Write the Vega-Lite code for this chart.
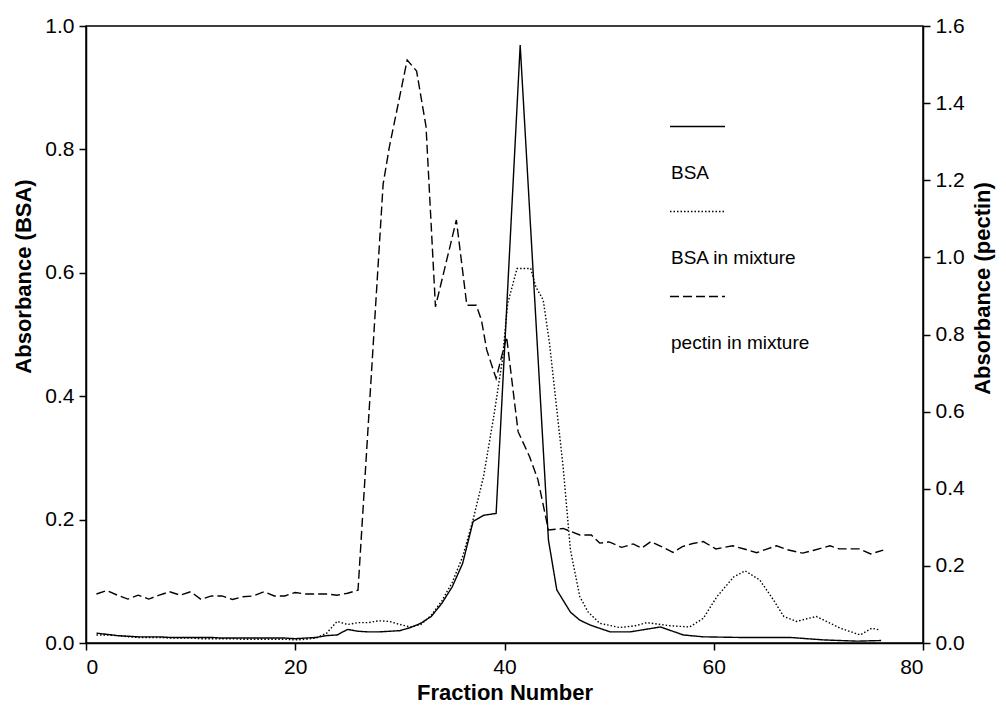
{
  "$schema": "https://vega.github.io/schema/vega-lite/v6.json",
  "width": 837,
  "height": 617,
  "autosize": {"type": "none"},
  "padding": {"left": 86, "top": 26, "right": 83, "bottom": 74},
  "background": "white",
  "config": {
    "view": {"stroke": "black", "strokeWidth": 1.5},
    "font": "Liberation Sans",
    "axis": {
      "domainColor": "black", "domainWidth": 1.5, "tickColor": "black", "tickWidth": 1.5, "tickSize": 7,
      "labelFontSize": 21, "labelColor": "black", "labelFont": "Liberation Sans", "labelPadding": 5,
      "titleFont": "Liberation Sans", "titleFontSize": 22, "titleFontWeight": "bold", "titleColor": "black", "grid": false
    }
  },
  "data": {"values": [
    {"Fraction": 1, "Absorbance": 0.016, "Sample": "BSA"},
    {"Fraction": 2, "Absorbance": 0.014, "Sample": "BSA"},
    {"Fraction": 3, "Absorbance": 0.012, "Sample": "BSA"},
    {"Fraction": 4, "Absorbance": 0.011, "Sample": "BSA"},
    {"Fraction": 5, "Absorbance": 0.010, "Sample": "BSA"},
    {"Fraction": 6, "Absorbance": 0.010, "Sample": "BSA"},
    {"Fraction": 7, "Absorbance": 0.010, "Sample": "BSA"},
    {"Fraction": 8, "Absorbance": 0.009, "Sample": "BSA"},
    {"Fraction": 9, "Absorbance": 0.009, "Sample": "BSA"},
    {"Fraction": 10, "Absorbance": 0.009, "Sample": "BSA"},
    {"Fraction": 11, "Absorbance": 0.009, "Sample": "BSA"},
    {"Fraction": 12, "Absorbance": 0.009, "Sample": "BSA"},
    {"Fraction": 13, "Absorbance": 0.008, "Sample": "BSA"},
    {"Fraction": 14, "Absorbance": 0.008, "Sample": "BSA"},
    {"Fraction": 15, "Absorbance": 0.008, "Sample": "BSA"},
    {"Fraction": 16, "Absorbance": 0.008, "Sample": "BSA"},
    {"Fraction": 17, "Absorbance": 0.008, "Sample": "BSA"},
    {"Fraction": 18, "Absorbance": 0.008, "Sample": "BSA"},
    {"Fraction": 19, "Absorbance": 0.008, "Sample": "BSA"},
    {"Fraction": 20, "Absorbance": 0.007, "Sample": "BSA"},
    {"Fraction": 21, "Absorbance": 0.008, "Sample": "BSA"},
    {"Fraction": 22, "Absorbance": 0.009, "Sample": "BSA"},
    {"Fraction": 23, "Absorbance": 0.012, "Sample": "BSA"},
    {"Fraction": 24, "Absorbance": 0.013, "Sample": "BSA"},
    {"Fraction": 25, "Absorbance": 0.022, "Sample": "BSA"},
    {"Fraction": 26, "Absorbance": 0.019, "Sample": "BSA"},
    {"Fraction": 27, "Absorbance": 0.018, "Sample": "BSA"},
    {"Fraction": 28, "Absorbance": 0.018, "Sample": "BSA"},
    {"Fraction": 29, "Absorbance": 0.019, "Sample": "BSA"},
    {"Fraction": 30, "Absorbance": 0.020, "Sample": "BSA"},
    {"Fraction": 31, "Absorbance": 0.025, "Sample": "BSA"},
    {"Fraction": 32, "Absorbance": 0.032, "Sample": "BSA"},
    {"Fraction": 33, "Absorbance": 0.043, "Sample": "BSA"},
    {"Fraction": 34, "Absorbance": 0.064, "Sample": "BSA"},
    {"Fraction": 35, "Absorbance": 0.091, "Sample": "BSA"},
    {"Fraction": 36, "Absorbance": 0.129, "Sample": "BSA"},
    {"Fraction": 37, "Absorbance": 0.197, "Sample": "BSA"},
    {"Fraction": 38, "Absorbance": 0.207, "Sample": "BSA"},
    {"Fraction": 39.2, "Absorbance": 0.210, "Sample": "BSA"},
    {"Fraction": 41.5, "Absorbance": 0.969, "Sample": "BSA"},
    {"Fraction": 44.2, "Absorbance": 0.167, "Sample": "BSA"},
    {"Fraction": 45, "Absorbance": 0.086, "Sample": "BSA"},
    {"Fraction": 46.3, "Absorbance": 0.050, "Sample": "BSA"},
    {"Fraction": 47.2, "Absorbance": 0.037, "Sample": "BSA"},
    {"Fraction": 48.2, "Absorbance": 0.029, "Sample": "BSA"},
    {"Fraction": 50.1, "Absorbance": 0.018, "Sample": "BSA"},
    {"Fraction": 52, "Absorbance": 0.018, "Sample": "BSA"},
    {"Fraction": 54.9, "Absorbance": 0.026, "Sample": "BSA"},
    {"Fraction": 57.1, "Absorbance": 0.013, "Sample": "BSA"},
    {"Fraction": 59, "Absorbance": 0.010, "Sample": "BSA"},
    {"Fraction": 62.5, "Absorbance": 0.009, "Sample": "BSA"},
    {"Fraction": 67.3, "Absorbance": 0.009, "Sample": "BSA"},
    {"Fraction": 70.5, "Absorbance": 0.005, "Sample": "BSA"},
    {"Fraction": 73.7, "Absorbance": 0.003, "Sample": "BSA"},
    {"Fraction": 76, "Absorbance": 0.004, "Sample": "BSA"},

    {"Fraction": 1, "Absorbance": 0.013, "Sample": "BSA in mixture"},
    {"Fraction": 2, "Absorbance": 0.013, "Sample": "BSA in mixture"},
    {"Fraction": 3, "Absorbance": 0.012, "Sample": "BSA in mixture"},
    {"Fraction": 4, "Absorbance": 0.010, "Sample": "BSA in mixture"},
    {"Fraction": 5, "Absorbance": 0.009, "Sample": "BSA in mixture"},
    {"Fraction": 6, "Absorbance": 0.009, "Sample": "BSA in mixture"},
    {"Fraction": 7, "Absorbance": 0.009, "Sample": "BSA in mixture"},
    {"Fraction": 8, "Absorbance": 0.008, "Sample": "BSA in mixture"},
    {"Fraction": 9, "Absorbance": 0.008, "Sample": "BSA in mixture"},
    {"Fraction": 10, "Absorbance": 0.008, "Sample": "BSA in mixture"},
    {"Fraction": 11, "Absorbance": 0.007, "Sample": "BSA in mixture"},
    {"Fraction": 12, "Absorbance": 0.007, "Sample": "BSA in mixture"},
    {"Fraction": 13, "Absorbance": 0.007, "Sample": "BSA in mixture"},
    {"Fraction": 14, "Absorbance": 0.007, "Sample": "BSA in mixture"},
    {"Fraction": 15, "Absorbance": 0.006, "Sample": "BSA in mixture"},
    {"Fraction": 16, "Absorbance": 0.006, "Sample": "BSA in mixture"},
    {"Fraction": 17, "Absorbance": 0.006, "Sample": "BSA in mixture"},
    {"Fraction": 18, "Absorbance": 0.006, "Sample": "BSA in mixture"},
    {"Fraction": 19, "Absorbance": 0.006, "Sample": "BSA in mixture"},
    {"Fraction": 20, "Absorbance": 0.005, "Sample": "BSA in mixture"},
    {"Fraction": 21, "Absorbance": 0.006, "Sample": "BSA in mixture"},
    {"Fraction": 22, "Absorbance": 0.008, "Sample": "BSA in mixture"},
    {"Fraction": 23, "Absorbance": 0.016, "Sample": "BSA in mixture"},
    {"Fraction": 24, "Absorbance": 0.035, "Sample": "BSA in mixture"},
    {"Fraction": 25, "Absorbance": 0.030, "Sample": "BSA in mixture"},
    {"Fraction": 26, "Absorbance": 0.033, "Sample": "BSA in mixture"},
    {"Fraction": 27, "Absorbance": 0.033, "Sample": "BSA in mixture"},
    {"Fraction": 28, "Absorbance": 0.036, "Sample": "BSA in mixture"},
    {"Fraction": 29, "Absorbance": 0.035, "Sample": "BSA in mixture"},
    {"Fraction": 30, "Absorbance": 0.030, "Sample": "BSA in mixture"},
    {"Fraction": 31, "Absorbance": 0.026, "Sample": "BSA in mixture"},
    {"Fraction": 32, "Absorbance": 0.030, "Sample": "BSA in mixture"},
    {"Fraction": 33, "Absorbance": 0.045, "Sample": "BSA in mixture"},
    {"Fraction": 34, "Absorbance": 0.068, "Sample": "BSA in mixture"},
    {"Fraction": 35, "Absorbance": 0.098, "Sample": "BSA in mixture"},
    {"Fraction": 36, "Absorbance": 0.140, "Sample": "BSA in mixture"},
    {"Fraction": 37, "Absorbance": 0.200, "Sample": "BSA in mixture"},
    {"Fraction": 38, "Absorbance": 0.270, "Sample": "BSA in mixture"},
    {"Fraction": 39, "Absorbance": 0.370, "Sample": "BSA in mixture"},
    {"Fraction": 39.8, "Absorbance": 0.459, "Sample": "BSA in mixture"},
    {"Fraction": 40.3, "Absorbance": 0.550, "Sample": "BSA in mixture"},
    {"Fraction": 41.2, "Absorbance": 0.607, "Sample": "BSA in mixture"},
    {"Fraction": 42.5, "Absorbance": 0.607, "Sample": "BSA in mixture"},
    {"Fraction": 43, "Absorbance": 0.577, "Sample": "BSA in mixture"},
    {"Fraction": 43.7, "Absorbance": 0.556, "Sample": "BSA in mixture"},
    {"Fraction": 44.3, "Absorbance": 0.486, "Sample": "BSA in mixture"},
    {"Fraction": 45.6, "Absorbance": 0.286, "Sample": "BSA in mixture"},
    {"Fraction": 46.3, "Absorbance": 0.151, "Sample": "BSA in mixture"},
    {"Fraction": 47.2, "Absorbance": 0.075, "Sample": "BSA in mixture"},
    {"Fraction": 48, "Absorbance": 0.050, "Sample": "BSA in mixture"},
    {"Fraction": 49.1, "Absorbance": 0.032, "Sample": "BSA in mixture"},
    {"Fraction": 51, "Absorbance": 0.025, "Sample": "BSA in mixture"},
    {"Fraction": 52.5, "Absorbance": 0.028, "Sample": "BSA in mixture"},
    {"Fraction": 53.6, "Absorbance": 0.033, "Sample": "BSA in mixture"},
    {"Fraction": 55.8, "Absorbance": 0.028, "Sample": "BSA in mixture"},
    {"Fraction": 57.7, "Absorbance": 0.026, "Sample": "BSA in mixture"},
    {"Fraction": 59, "Absorbance": 0.040, "Sample": "BSA in mixture"},
    {"Fraction": 60.3, "Absorbance": 0.075, "Sample": "BSA in mixture"},
    {"Fraction": 61.9, "Absorbance": 0.107, "Sample": "BSA in mixture"},
    {"Fraction": 63, "Absorbance": 0.117, "Sample": "BSA in mixture"},
    {"Fraction": 64.4, "Absorbance": 0.102, "Sample": "BSA in mixture"},
    {"Fraction": 65.7, "Absorbance": 0.070, "Sample": "BSA in mixture"},
    {"Fraction": 66.7, "Absorbance": 0.043, "Sample": "BSA in mixture"},
    {"Fraction": 67.9, "Absorbance": 0.035, "Sample": "BSA in mixture"},
    {"Fraction": 69.8, "Absorbance": 0.043, "Sample": "BSA in mixture"},
    {"Fraction": 72.1, "Absorbance": 0.024, "Sample": "BSA in mixture"},
    {"Fraction": 74, "Absorbance": 0.013, "Sample": "BSA in mixture"},
    {"Fraction": 75.1, "Absorbance": 0.024, "Sample": "BSA in mixture"},
    {"Fraction": 75.9, "Absorbance": 0.021, "Sample": "BSA in mixture"},

    {"Fraction": 1, "Absorbance": 0.127, "Sample": "pectin in mixture"},
    {"Fraction": 2, "Absorbance": 0.136, "Sample": "pectin in mixture"},
    {"Fraction": 3, "Absorbance": 0.124, "Sample": "pectin in mixture"},
    {"Fraction": 4, "Absorbance": 0.114, "Sample": "pectin in mixture"},
    {"Fraction": 5, "Absorbance": 0.124, "Sample": "pectin in mixture"},
    {"Fraction": 6, "Absorbance": 0.114, "Sample": "pectin in mixture"},
    {"Fraction": 7, "Absorbance": 0.124, "Sample": "pectin in mixture"},
    {"Fraction": 8, "Absorbance": 0.133, "Sample": "pectin in mixture"},
    {"Fraction": 9, "Absorbance": 0.124, "Sample": "pectin in mixture"},
    {"Fraction": 10, "Absorbance": 0.133, "Sample": "pectin in mixture"},
    {"Fraction": 11, "Absorbance": 0.113, "Sample": "pectin in mixture"},
    {"Fraction": 12, "Absorbance": 0.122, "Sample": "pectin in mixture"},
    {"Fraction": 13, "Absorbance": 0.122, "Sample": "pectin in mixture"},
    {"Fraction": 14, "Absorbance": 0.113, "Sample": "pectin in mixture"},
    {"Fraction": 15, "Absorbance": 0.120, "Sample": "pectin in mixture"},
    {"Fraction": 16, "Absorbance": 0.122, "Sample": "pectin in mixture"},
    {"Fraction": 17, "Absorbance": 0.133, "Sample": "pectin in mixture"},
    {"Fraction": 18, "Absorbance": 0.122, "Sample": "pectin in mixture"},
    {"Fraction": 19, "Absorbance": 0.122, "Sample": "pectin in mixture"},
    {"Fraction": 20, "Absorbance": 0.131, "Sample": "pectin in mixture"},
    {"Fraction": 21, "Absorbance": 0.127, "Sample": "pectin in mixture"},
    {"Fraction": 22, "Absorbance": 0.127, "Sample": "pectin in mixture"},
    {"Fraction": 23, "Absorbance": 0.127, "Sample": "pectin in mixture"},
    {"Fraction": 24, "Absorbance": 0.124, "Sample": "pectin in mixture"},
    {"Fraction": 25, "Absorbance": 0.129, "Sample": "pectin in mixture"},
    {"Fraction": 26, "Absorbance": 0.137, "Sample": "pectin in mixture"},
    {"Fraction": 28.4, "Absorbance": 1.19, "Sample": "pectin in mixture"},
    {"Fraction": 29, "Absorbance": 1.287, "Sample": "pectin in mixture"},
    {"Fraction": 30.7, "Absorbance": 1.512, "Sample": "pectin in mixture"},
    {"Fraction": 31.6, "Absorbance": 1.483, "Sample": "pectin in mixture"},
    {"Fraction": 32.5, "Absorbance": 1.339, "Sample": "pectin in mixture"},
    {"Fraction": 33.4, "Absorbance": 0.872, "Sample": "pectin in mixture"},
    {"Fraction": 35.4, "Absorbance": 1.097, "Sample": "pectin in mixture"},
    {"Fraction": 36.4, "Absorbance": 0.876, "Sample": "pectin in mixture"},
    {"Fraction": 37.3, "Absorbance": 0.876, "Sample": "pectin in mixture"},
    {"Fraction": 37.8, "Absorbance": 0.837, "Sample": "pectin in mixture"},
    {"Fraction": 38.3, "Absorbance": 0.76, "Sample": "pectin in mixture"},
    {"Fraction": 39.2, "Absorbance": 0.686, "Sample": "pectin in mixture"},
    {"Fraction": 40.2, "Absorbance": 0.794, "Sample": "pectin in mixture"},
    {"Fraction": 41.3, "Absorbance": 0.548, "Sample": "pectin in mixture"},
    {"Fraction": 42.4, "Absorbance": 0.483, "Sample": "pectin in mixture"},
    {"Fraction": 43.2, "Absorbance": 0.423, "Sample": "pectin in mixture"},
    {"Fraction": 44.2, "Absorbance": 0.293, "Sample": "pectin in mixture"},
    {"Fraction": 45.6, "Absorbance": 0.297, "Sample": "pectin in mixture"},
    {"Fraction": 47.2, "Absorbance": 0.28, "Sample": "pectin in mixture"},
    {"Fraction": 48.3, "Absorbance": 0.28, "Sample": "pectin in mixture"},
    {"Fraction": 49.1, "Absorbance": 0.259, "Sample": "pectin in mixture"},
    {"Fraction": 50, "Absorbance": 0.262, "Sample": "pectin in mixture"},
    {"Fraction": 51.2, "Absorbance": 0.248, "Sample": "pectin in mixture"},
    {"Fraction": 52.3, "Absorbance": 0.257, "Sample": "pectin in mixture"},
    {"Fraction": 53.1, "Absorbance": 0.246, "Sample": "pectin in mixture"},
    {"Fraction": 54, "Absorbance": 0.263, "Sample": "pectin in mixture"},
    {"Fraction": 55, "Absorbance": 0.25, "Sample": "pectin in mixture"},
    {"Fraction": 56.1, "Absorbance": 0.235, "Sample": "pectin in mixture"},
    {"Fraction": 57, "Absorbance": 0.25, "Sample": "pectin in mixture"},
    {"Fraction": 58, "Absorbance": 0.258, "Sample": "pectin in mixture"},
    {"Fraction": 59, "Absorbance": 0.263, "Sample": "pectin in mixture"},
    {"Fraction": 60.2, "Absorbance": 0.244, "Sample": "pectin in mixture"},
    {"Fraction": 61.8, "Absorbance": 0.252, "Sample": "pectin in mixture"},
    {"Fraction": 63, "Absorbance": 0.243, "Sample": "pectin in mixture"},
    {"Fraction": 64.1, "Absorbance": 0.234, "Sample": "pectin in mixture"},
    {"Fraction": 65, "Absorbance": 0.243, "Sample": "pectin in mixture"},
    {"Fraction": 66, "Absorbance": 0.252, "Sample": "pectin in mixture"},
    {"Fraction": 67, "Absorbance": 0.242, "Sample": "pectin in mixture"},
    {"Fraction": 68.5, "Absorbance": 0.233, "Sample": "pectin in mixture"},
    {"Fraction": 69.5, "Absorbance": 0.24, "Sample": "pectin in mixture"},
    {"Fraction": 71.1, "Absorbance": 0.252, "Sample": "pectin in mixture"},
    {"Fraction": 72, "Absorbance": 0.244, "Sample": "pectin in mixture"},
    {"Fraction": 73.9, "Absorbance": 0.244, "Sample": "pectin in mixture"},
    {"Fraction": 75, "Absorbance": 0.231, "Sample": "pectin in mixture"},
    {"Fraction": 76.2, "Absorbance": 0.241, "Sample": "pectin in mixture"}
  ]},
  "layer": [
    {
      "transform": [{"filter": "datum.Sample !== 'pectin in mixture'"}],
      "mark": {"type": "line", "color": "black", "strokeWidth": 1.4},
      "encoding": {
        "x": {"field": "Fraction", "type": "quantitative", "scale": {"domain": [0, 80], "nice": false},
              "axis": {"values": [0, 20, 40, 60, 80], "title": "Fraction Number", "labelPadding": 6, "titlePadding": 5}},
        "y": {"field": "Absorbance", "type": "quantitative", "scale": {"domain": [0, 1], "nice": false},
              "axis": {"orient": "left", "values": [0, 0.2, 0.4, 0.6, 0.8, 1.0], "format": ".1f", "title": "Absorbance (BSA)", "titlePadding": 9, "titleY": 250}},
        "strokeDash": {"field": "Sample", "type": "nominal",
          "scale": {"domain": ["BSA", "BSA in mixture", "pectin in mixture"], "range": [[1, 0], [1.5, 2], [9, 4]]},
          "legend": {"orient": "none", "legendX": 583, "legendY": 72, "title": null, "padding": 0,
            "symbolType": "stroke", "symbolSize": 3025, "symbolStrokeWidth": 1.4, "symbolStrokeColor": "black",
            "labelFontSize": 19, "labelFont": "Liberation Sans", "labelColor": "black", "labelOffset": 0, "rowPadding": -1,
            "encode": {"labels": {"update": {"dx": {"value": -55}, "dy": {"value": 46}}}}}}
      }
    },
    {
      "transform": [{"filter": "datum.Sample === 'pectin in mixture'"}],
      "mark": {"type": "line", "color": "black", "strokeWidth": 1.4},
      "encoding": {
        "x": {"field": "Fraction", "type": "quantitative", "scale": {"domain": [0, 80], "nice": false}},
        "y": {"field": "Absorbance", "type": "quantitative", "scale": {"domain": [0, 1.6], "nice": false},
              "axis": {"orient": "right", "values": [0, 0.2, 0.4, 0.6, 0.8, 1.0, 1.2, 1.4, 1.6], "format": ".1f", "title": "Absorbance (pectin)", "titleAngle": 270, "titleBaseline": "top", "titlePadding": 8, "titleY": 262}},
        "strokeDash": {"field": "Sample", "type": "nominal",
          "scale": {"domain": ["BSA", "BSA in mixture", "pectin in mixture"], "range": [[1, 0], [1.5, 2], [9, 4]]}}
      }
    }
  ],
  "resolve": {"scale": {"y": "independent"}}
}
